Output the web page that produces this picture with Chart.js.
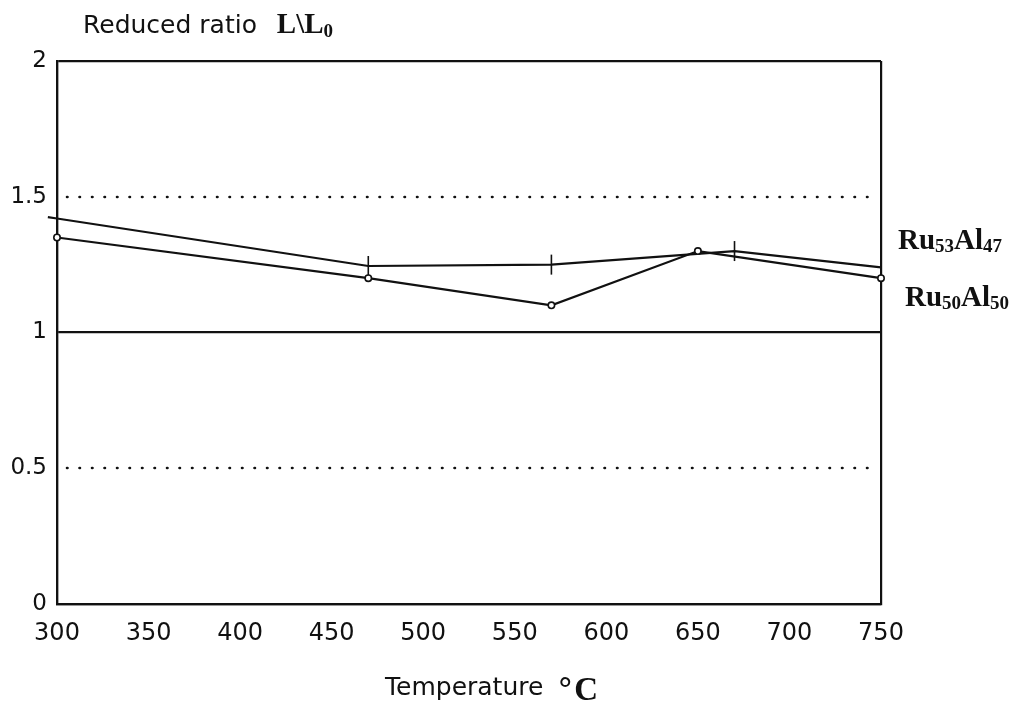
<!DOCTYPE html>
<html>
<head>
<meta charset="utf-8">
<script src="https://cdn.jsdelivr.net/npm/chart.js@4/dist/chart.umd.min.js"></script>
<style>
  html, body { margin: 0; padding: 0; background: #fff; }
  #wrap { width: 1020px; height: 704px; }
</style>
</head>
<body>
<div id="wrap"><canvas id="c" width="1020" height="704"></canvas></div>
<script>
// Reduced ratio L/L0 versus annealing temperature for two RuAl compositions
const tempsRu50Al50 = [300, 470, 570, 650, 750];
const ratioRu50Al50 = [1.35, 1.20, 1.10, 1.30, 1.20];

const tempsRu53Al47 = [295, 300, 470, 570, 670, 750, 755];
const ratioRu53Al47 = [1.425, 1.42, 1.245, 1.25, 1.30, 1.24, 1.24];
const markedRu53Al47 = [false, false, true, true, true, false, false];

const xTicks = [300, 350, 400, 450, 500, 550, 600, 650, 700, 750];
const yTicks = [0, 0.5, 1, 1.5, 2];
const yTickLabels = ['0', '0.5', '1', '1.5', '2'];
const dottedLevels = [0.5, 1.5];

const INK = '#111';
const SANS = '"DejaVu Sans", sans-serif';
const SERIF = '"Liberation Serif", "DejaVu Serif", serif';

const toPoints = (xs, ys) => xs.map((x, i) => ({ x, y: ys[i] }));

// Draws a run of text pieces; each piece may be shifted down and use its own font
function drawRuns(ctx, x, y, runs) {
  let cx = x;
  runs.forEach(r => {
    ctx.font = r.font;
    ctx.fillText(r.text, cx, y + (r.dy || 0));
    cx += ctx.measureText(r.text).width + (r.gap || 0);
  });
}

const annotations = {
  id: 'annotations',
  beforeDatasetsDraw(chart) {
    const { ctx, chartArea, scales } = chart;
    ctx.save();
    ctx.strokeStyle = INK;
    ctx.lineWidth = 2.6;
    ctx.lineCap = 'round';
    ctx.setLineDash([0.5, 12]);
    dottedLevels.forEach(v => {
      const y = Math.round(scales.y.getPixelForValue(v));
      ctx.beginPath();
      ctx.moveTo(chartArea.left + 10, y);
      ctx.lineTo(chartArea.right - 4, y);
      ctx.stroke();
    });
    ctx.restore();
  },
  afterDraw(chart) {
    const { ctx } = chart;
    ctx.save();
    ctx.fillStyle = INK;
    ctx.textBaseline = 'alphabetic';
    ctx.textAlign = 'left';

    // y-axis title
    drawRuns(ctx, 83, 33, [
      { text: 'Reduced ratio ', font: `25px ${SANS}`, gap: 12 },
      { text: 'L\\L', font: `bold 29px ${SERIF}` },
      { text: '0', font: `bold 19px ${SERIF}`, dy: 4 }
    ]);

    // x-axis title
    drawRuns(ctx, 385, 695, [
      { text: 'Temperature ', font: `25px ${SANS}`, gap: 6 },
      { text: '°', font: `32px ${SANS}`, dy: 6, gap: 1 },
      { text: 'C', font: `bold 33px ${SERIF}`, dy: 5 }
    ]);

    // series labels at the right end
    drawRuns(ctx, 898, 249, [
      { text: 'Ru', font: `bold 29px ${SERIF}` },
      { text: '53', font: `bold 19px ${SERIF}`, dy: 3 },
      { text: 'Al', font: `bold 29px ${SERIF}` },
      { text: '47', font: `bold 19px ${SERIF}`, dy: 3 }
    ]);
    drawRuns(ctx, 905, 306, [
      { text: 'Ru', font: `bold 29px ${SERIF}` },
      { text: '50', font: `bold 19px ${SERIF}`, dy: 3 },
      { text: 'Al', font: `bold 29px ${SERIF}` },
      { text: '50', font: `bold 19px ${SERIF}`, dy: 3 }
    ]);
    ctx.restore();
  }
};

new Chart(document.getElementById('c'), {
  type: 'line',
  data: {
    datasets: [
      {
        label: 'Ru50Al50',
        data: toPoints(tempsRu50Al50, ratioRu50Al50),
        borderColor: INK,
        borderWidth: 2.2,
        pointStyle: 'circle',
        pointRadius: 3.2,
        pointBorderWidth: 1.6,
        pointBackgroundColor: '#fff',
        pointBorderColor: INK,
        tension: 0,
        clip: false
      },
      {
        label: 'Ru53Al47',
        data: toPoints(tempsRu53Al47, ratioRu53Al47),
        borderColor: INK,
        borderWidth: 2.2,
        pointStyle: 'line',
        pointRotation: 90,
        pointRadius: markedRu53Al47.map(m => (m ? 10 : 0)),
        pointBorderWidth: 1.6,
        pointBorderColor: INK,
        tension: 0,
        clip: false
      }
    ]
  },
  options: {
    responsive: false,
    animation: false,
    devicePixelRatio: 1,
    layout: { padding: { top: 61, right: 139, left: 0, bottom: 0 } },
    plugins: { legend: { display: false }, tooltip: { enabled: false } },
    scales: {
      x: {
        type: 'linear',
        min: xTicks[0],
        max: xTicks[xTicks.length - 1],
        afterBuildTicks(scale) { scale.ticks = xTicks.map(v => ({ value: v })); },
        afterFit(scale) { scale.height = 100; },
        ticks: {
          color: INK,
          font: { family: '"DejaVu Sans", sans-serif', size: 24 },
          padding: 15,
          maxRotation: 0,
          autoSkip: false
        },
        grid: {
          drawTicks: false,
          lineWidth: 2.2,
          color: ctx => (ctx.tick && (ctx.tick.value === 300 || ctx.tick.value === 750)) ? INK : 'rgba(0,0,0,0)'
        },
        border: { display: true, color: INK, width: 2.2 }
      },
      y: {
        min: yTicks[0],
        max: yTicks[yTicks.length - 1],
        afterBuildTicks(scale) { scale.ticks = yTicks.map(v => ({ value: v })); },
        afterFit(scale) { scale.width = 57; },
        ticks: {
          color: INK,
          font: { family: '"DejaVu Sans", sans-serif', size: 23 },
          padding: 10,
          callback: v => yTickLabels[yTicks.indexOf(v)]
        },
        grid: {
          drawTicks: false,
          lineWidth: 2.2,
          color: ctx => (ctx.tick && [0, 1, 2].includes(ctx.tick.value)) ? INK : 'rgba(0,0,0,0)'
        },
        border: { display: true, color: INK, width: 2.2 }
      }
    }
  },
  plugins: [annotations]
});
</script>
</body>
</html>
